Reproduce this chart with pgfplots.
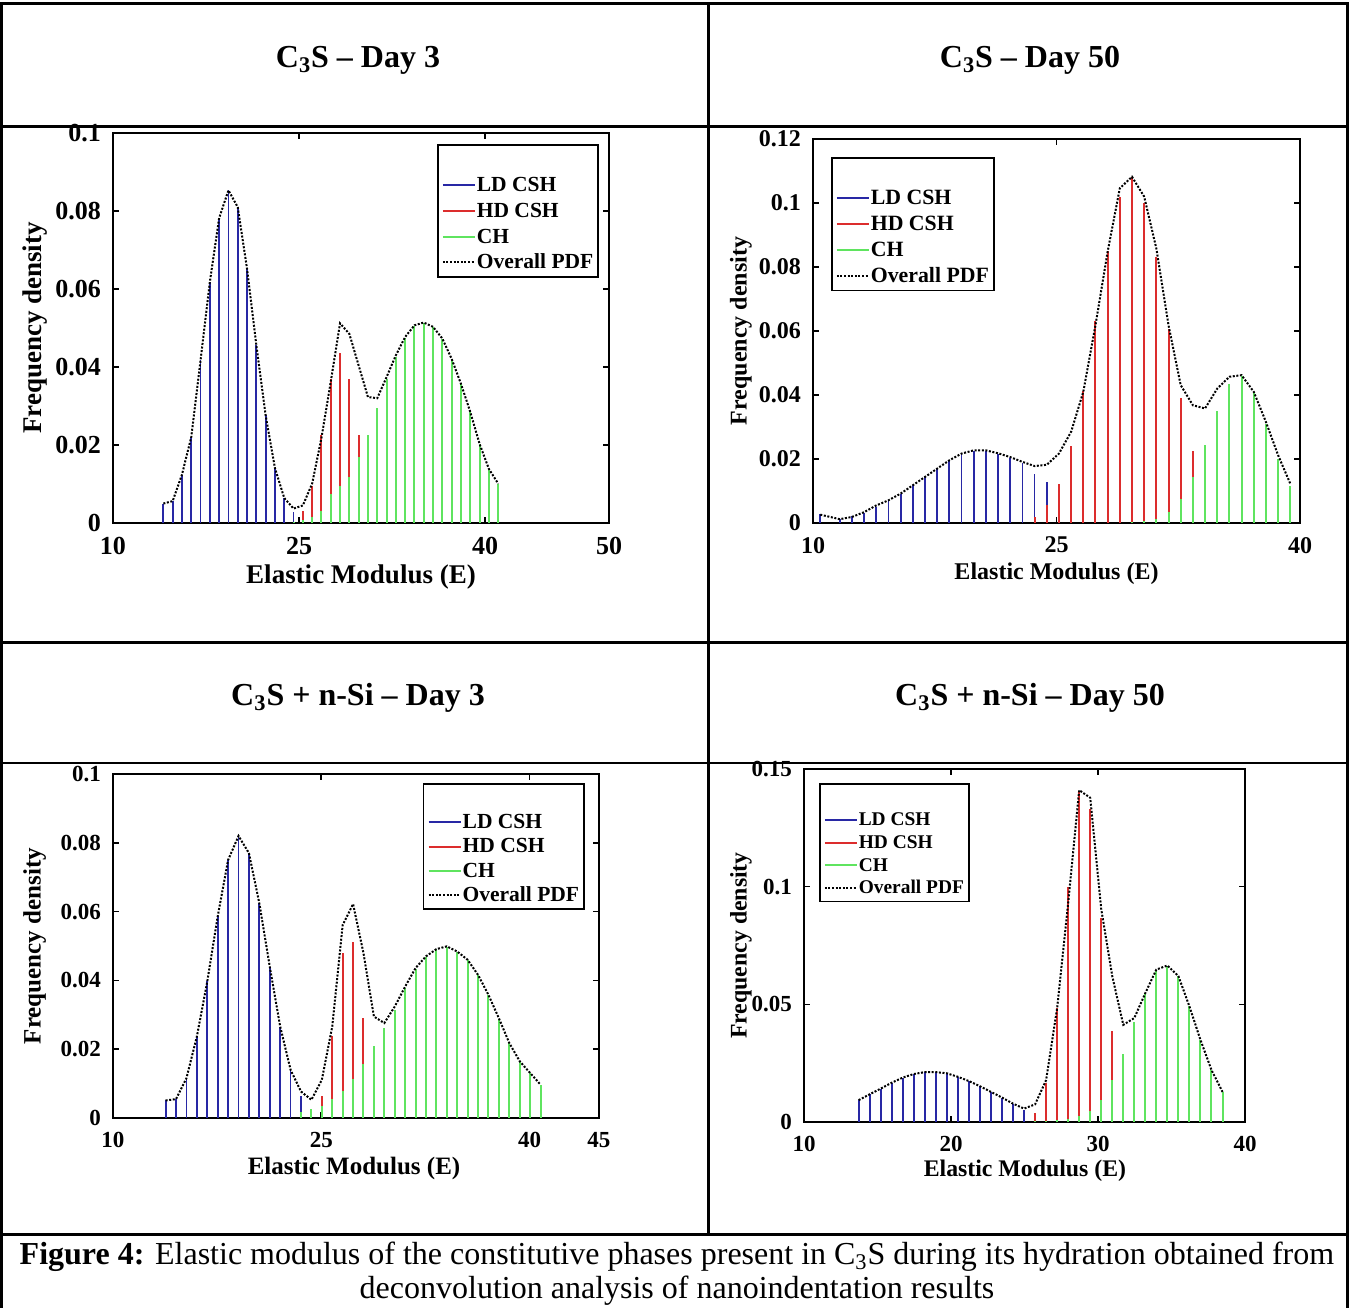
\documentclass[border=0pt]{standalone}
\usepackage{pgfplots}
\pgfplotsset{compat=1.18}
\usepackage{pgfplotstable}
\usepackage{fontspec}
\setmainfont{Liberation Serif}

\definecolor{ldc}{RGB}{40,40,165}
\definecolor{hdc}{RGB}{220,45,45}
\definecolor{chc}{RGB}{95,228,95}
\newcommand{\fs}[1]{\bfseries\fontsize{#1}{#1}\selectfont}

% C3S - Day 3
\pgfplotstableread{
x ld hd ch pdf
14.06 0.0050 0 0 0.0050
14.81 0.0056 0 0 0.0056
15.56 0.0124 0 0 0.0124
16.31 0.0220 0 0 0.0220
17.06 0.0417 0 0 0.0417
17.81 0.0618 0 0 0.0618
18.56 0.0782 0 0 0.0782
19.31 0.0853 0 0 0.0853
20.06 0.0810 0 0 0.0810
20.81 0.0652 0 0 0.0652
21.56 0.0456 0 0 0.0456
22.31 0.0276 0 0 0.0276
23.06 0.0141 0 0 0.0141
23.81 0.0064 0 0 0.0064
24.56 0.0028 0.0003 0.0002 0.0037
25.31 0.0005 0.0032 0.0008 0.0045
26.06 0 0.0095 0.0015 0.0101
26.81 0 0.0225 0.0030 0.0218
27.56 0 0.0370 0.0075 0.0362
28.31 0 0.0436 0.0095 0.0512
29.06 0 0.0370 0.0118 0.0485
29.81 0 0.0226 0.0168 0.0404
30.56 0 0.0097 0.0226 0.0323
31.31 0 0.0025 0.0295 0.0320
32.06 0 0.0005 0.0370 0.0374
32.81 0 0 0.0425 0.0430
33.56 0 0 0.0475 0.0477
34.31 0 0 0.0505 0.0507
35.06 0 0 0.0513 0.0514
35.81 0 0 0.0502 0.0503
36.56 0 0 0.0472 0.0473
37.31 0 0 0.0420 0.0421
38.06 0 0 0.0356 0.0357
38.81 0 0 0.0284 0.0285
39.56 0 0 0.0202 0.0203
40.31 0 0 0.0138 0.0139
41.06 0 0 0.0100 0.0101
}\tA

% C3S - Day 50
\pgfplotstableread{
x ld hd ch pdf
10.45 0.0028 0 0 0.0026
11.65 0.0013 0 0 0.0012
12.40 0.0021 0 0 0.0019
13.15 0.0032 0 0 0.0034
13.90 0.0050 0 0 0.0055
14.65 0.0068 0 0 0.0071
15.40 0.0092 0 0 0.0092
16.15 0.0118 0 0 0.0118
16.90 0.0144 0 0 0.0144
17.65 0.0170 0 0 0.0170
18.40 0.0196 0 0 0.0196
19.15 0.0215 0 0 0.0217
19.90 0.0226 0 0 0.0227
20.65 0.0226 0 0 0.0227
21.40 0.0216 0 0 0.0218
22.15 0.0204 0 0 0.0206
22.90 0.0186 0 0 0.0191
23.65 0.0154 0.0020 0 0.0178
24.40 0.0128 0.0055 0 0.0182
25.15 0.0090 0.0123 0 0.0217
25.90 0.0040 0.0240 0 0.0285
26.65 0.0010 0.0413 0 0.0410
27.40 0 0.0630 0 0.0618
28.15 0 0.0850 0 0.0848
28.90 0 0.1020 0 0.1046
29.65 0 0.1080 0.0003 0.1082
30.40 0 0.1000 0.0006 0.1020
31.15 0 0.0830 0.0012 0.0858
31.90 0 0.0605 0.0035 0.0618
32.65 0 0.0390 0.0075 0.0431
33.40 0 0.0225 0.0145 0.0368
34.15 0 0.0110 0.0245 0.0358
34.90 0 0.0050 0.0350 0.0420
35.65 0 0.0015 0.0435 0.0457
36.40 0 0 0.0460 0.0462
37.15 0 0 0.0405 0.0410
37.90 0 0 0.0310 0.0316
38.65 0 0 0.0200 0.0212
39.40 0 0 0.0115 0.0123
}\tB

% C3S + n-Si - Day 3
\pgfplotstableread{
x ld hd ch pdf
13.79 0.0051 0 0 0.0051
14.54 0.0055 0 0 0.0055
15.29 0.0116 0 0 0.0116
16.04 0.0237 0 0 0.0237
16.79 0.0397 0 0 0.0397
17.54 0.0586 0 0 0.0586
18.29 0.0750 0 0 0.0750
19.04 0.0820 0 0 0.0820
19.79 0.0770 0 0 0.0770
20.54 0.0624 0 0 0.0624
21.29 0.0440 0 0 0.0440
22.04 0.0266 0 0 0.0266
22.79 0.0140 0 0 0.0140
23.54 0.0063 0 0.0017 0.0077
24.29 0.0015 0.0010 0.0026 0.0053
25.04 0 0.0065 0.0034 0.0111
25.79 0 0.0239 0.0055 0.0266
26.54 0 0.0480 0.0080 0.0561
27.29 0 0.0513 0.0114 0.0622
28.04 0 0.0290 0.0158 0.0479
28.79 0 0.0090 0.0208 0.0295
29.54 0 0.0015 0.0262 0.0276
30.29 0 0 0.0315 0.0324
31.04 0 0 0.0378 0.0382
31.79 0 0 0.0434 0.0436
32.54 0 0 0.0468 0.0470
33.29 0 0 0.0490 0.0491
34.04 0 0 0.0498 0.0499
34.79 0 0 0.0483 0.0484
35.54 0 0 0.0459 0.0460
36.29 0 0 0.0415 0.0416
37.04 0 0 0.0357 0.0358
37.79 0 0 0.0289 0.0290
38.54 0 0 0.0217 0.0218
39.29 0 0 0.0164 0.0165
40.04 0 0 0.0130 0.0131
40.79 0 0 0.0096 0.0097
}\tC

% C3S + n-Si - Day 50
\pgfplotstableread{
x ld hd ch pdf
13.72 0.0093 0 0 0.0093
14.47 0.0118 0 0 0.0118
15.22 0.0142 0 0 0.0142
15.97 0.0167 0 0 0.0167
16.72 0.0189 0 0 0.0189
17.47 0.0204 0 0 0.0204
18.22 0.0212 0 0 0.0212
18.97 0.0212 0 0 0.0212
19.72 0.0207 0 0 0.0207
20.47 0.0192 0 0 0.0192
21.22 0.0174 0 0 0.0174
21.97 0.0152 0 0 0.0152
22.72 0.0128 0 0 0.0128
23.47 0.0104 0 0 0.0104
24.22 0.0078 0 0 0.0078
24.97 0.0053 0 0 0.0057
25.72 0.0025 0.0038 0.0003 0.0075
26.47 0 0.0164 0.0005 0.0178
27.22 0 0.0484 0.0008 0.0484
27.97 0 0.0997 0.0012 0.0930
28.72 0 0.1403 0.0024 0.1410
29.47 0 0.1332 0.0047 0.1378
30.22 0 0.0869 0.0093 0.0905
30.97 0 0.0385 0.0178 0.0620
31.72 0 0.0110 0.0288 0.0413
32.47 0 0.0030 0.0424 0.0442
33.22 0 0 0.0548 0.0548
33.97 0 0 0.0648 0.0648
34.72 0 0 0.0665 0.0665
35.47 0 0 0.0620 0.0620
36.22 0 0 0.0491 0.0491
36.97 0 0 0.0349 0.0349
37.72 0 0 0.0221 0.0221
38.47 0 0 0.0128 0.0128
}\tD

\pgfplotsset{
  stemplot/.style={
    scale only axis,
    axis line style={line width=0.8pt},
    tick align=inside, major tick length=3pt,
    tick style={line width=0.8pt, black},
    scaled ticks=false,
    /pgf/number format/assume math mode=true,
    xticklabel style={yshift=-3.5pt},
    yticklabel style={xshift=-2.5pt},
    ylabel={Frequency density}, xlabel={Elastic Modulus (E)},
    legend cell align=left,
    legend image code/.code={\draw[##1] (0pt,0pt) -- (16pt,0pt);},
  },
  ldstem/.style={ycomb, no markers, ldc, line width=0.9pt, forget plot},
  hdstem/.style={ycomb, no markers, hdc, line width=1pt, forget plot},
  chstem/.style={ycomb, no markers, chc, line width=1pt, forget plot},
  pdfline/.style={black, line width=1pt, dash pattern=on 1pt off 0.8pt, no markers, forget plot},
}

\newcommand{\legendset}{%
  \addlegendimage{empty legend}\addlegendentry{}
  \addlegendimage{ldc, line width=1pt}\addlegendentry{LD CSH}
  \addlegendimage{hdc, line width=1pt}\addlegendentry{HD CSH}
  \addlegendimage{chc, line width=1pt}\addlegendentry{CH}
  \addlegendimage{black, line width=1pt, dash pattern=on 1pt off 0.8pt}\addlegendentry{Overall PDF}
}

\begin{document}
\begin{tikzpicture}
\begin{scope}[x=0.5pt,y=-0.5pt]
\useasboundingbox (0,0) rectangle (1349,1308);
% table frame
\draw[line width=1.5pt] (0,3) -- (1349,3);
\draw[line width=1.1pt] (1.5,2) -- (1.5,1308);
\draw[line width=1.1pt] (1347.5,2) -- (1347.5,1308);
\draw[line width=1.1pt] (708.5,3) -- (708.5,1234);
\draw[line width=1.1pt] (0,126.5) -- (1349,126.5);
\draw[line width=1.1pt] (0,642.5) -- (1349,642.5);
\draw[line width=1.1pt] (0,763) -- (1349,763);
\draw[line width=1.1pt] (0,1234.5) -- (1349,1234.5);
% titles
\node[font=\fs{16}, anchor=base] at (358,67) {C\textsubscript{3}S – Day 3};
\node[font=\fs{16}, anchor=base] at (1030,67) {C\textsubscript{3}S – Day 50};
\node[font=\fs{16}, anchor=base] at (358,705) {C\textsubscript{3}S + n-Si – Day 3};
\node[font=\fs{16}, anchor=base] at (1030,705) {C\textsubscript{3}S + n-Si – Day 50};
% caption
\node[font=\fontsize{16}{16}\selectfont, anchor=base] at (677,1264) {\textbf{Figure 4:} Elastic modulus of the constitutive phases present in C\textsubscript{3}S during its hydration obtained from};
\node[font=\fontsize{16}{16}\selectfont, anchor=base] at (677,1298) {deconvolution analysis of nanoindentation results};
\end{scope}

% Panel 1
\begin{axis}[stemplot, at={(56.5pt,-261.5pt)}, anchor=south west,
  width=248pt, height=195pt,
  xmin=10, xmax=50, ymin=0, ymax=0.1,
  xtick={10,25,40,50}, xticklabels={10,25,40,50},
  ytick={0,0.02,0.04,0.06,0.08,0.1}, yticklabels={0,0.02,0.04,0.06,0.08,0.1},
  ticklabel style={font=\fs{13}},
  label style={font=\fs{13.5}},
  ylabel style={at={(axis description cs:-0.157,0.5)}, anchor=center},
  xlabel style={at={(axis description cs:0.5,-0.138)}, anchor=center},
  legend style={at={(0.98,0.972)}, anchor=north east, draw=black, line width=0.8pt,
    inner xsep=2pt, inner ysep=1pt, row sep=0pt, font=\fs{10.75},
    nodes={inner ysep=0pt, inner xsep=0.5pt, text height=9.7pt, text depth=3.15pt},
    /tikz/every even column/.append style={column sep=0pt}},
]
\legendset
\addplot[ldstem] table[x=x,y=ld]{\tA};
\addplot[hdstem] table[x=x,y=hd]{\tA};
\addplot[chstem] table[x=x,y=ch]{\tA};
\addplot[pdfline] table[x=x,y=pdf]{\tA};
\end{axis}

% Panel 2
\begin{axis}[stemplot, at={(406.5pt,-261.5pt)}, anchor=south west,
  width=243.5pt, height=192pt,
  xmin=10, xmax=40, ymin=0, ymax=0.12,
  xtick={10,25,40}, xticklabels={10,25,40},
  ytick={0,0.02,0.04,0.06,0.08,0.1,0.12}, yticklabels={0,0.02,0.04,0.06,0.08,0.1,0.12},
  ticklabel style={font=\fs{12}},
  label style={font=\fs{12}},
  ylabel style={at={(axis description cs:-0.148,0.5)}, anchor=center},
  xlabel style={at={(axis description cs:0.5,-0.132)}, anchor=center},
  legend style={at={(0.037,0.953)}, anchor=north west, draw=black, line width=0.8pt,
    inner xsep=2pt, inner ysep=1pt, row sep=0pt, font=\fs{10.9},
    nodes={inner ysep=0pt, inner xsep=0.5pt, text height=9.7pt, text depth=3.15pt},
    /tikz/every even column/.append style={column sep=0pt}},
]
\legendset
\addplot[ldstem] table[x=x,y=ld]{\tB};
\addplot[hdstem] table[x=x,y=hd]{\tB};
\addplot[chstem] table[x=x,y=ch]{\tB};
\addplot[pdfline] table[x=x,y=pdf]{\tB};
\end{axis}

% Panel 3
\begin{axis}[stemplot, at={(56.5pt,-559pt)}, anchor=south west,
  width=243pt, height=172pt,
  xmin=10, xmax=45, ymin=0, ymax=0.1,
  xtick={10,25,40,45}, xticklabels={10,25,40,45},
  ytick={0,0.02,0.04,0.06,0.08,0.1}, yticklabels={0,0.02,0.04,0.06,0.08,0.1},
  ticklabel style={font=\fs{11.5}},
  label style={font=\fs{12.5}},
  ylabel style={at={(axis description cs:-0.161,0.5)}, anchor=center},
  xlabel style={at={(axis description cs:0.496,-0.148)}, anchor=center},
  legend style={at={(0.971,0.974)}, anchor=north east, draw=black, line width=0.8pt,
    inner xsep=2pt, inner ysep=1pt, row sep=0pt, font=\fs{10.75},
    nodes={inner ysep=0pt, inner xsep=0.5pt, text height=9.2pt, text depth=2.95pt},
    /tikz/every even column/.append style={column sep=0pt}},
]
\legendset
\addplot[ldstem] table[x=x,y=ld]{\tC};
\addplot[hdstem] table[x=x,y=hd]{\tC};
\addplot[chstem] table[x=x,y=ch]{\tC};
\addplot[pdfline] table[x=x,y=pdf]{\tC};
\end{axis}

% Panel 4
\begin{axis}[stemplot, at={(402pt,-561pt)}, anchor=south west,
  width=220.5pt, height=176.5pt,
  xmin=10, xmax=40, ymin=0, ymax=0.15,
  xtick={10,20,30,40}, xticklabels={10,20,30,40},
  ytick={0,0.05,0.1,0.15}, yticklabels={0,0.05,0.1,0.15},
  ticklabel style={font=\fs{11.5}},
  label style={font=\fs{11.9}},
  ylabel style={at={(axis description cs:-0.143,0.5)}, anchor=center},
  xlabel style={at={(axis description cs:0.501,-0.138)}, anchor=center},
  legend style={at={(0.034,0.96)}, anchor=north west, draw=black, line width=0.8pt,
    inner xsep=2pt, inner ysep=1pt, row sep=0pt, font=\fs{9.7},
    nodes={inner ysep=0pt, inner xsep=0.5pt, text height=8.6pt, text depth=2.75pt},
    /tikz/every even column/.append style={column sep=0pt}},
]
\legendset
\addplot[ldstem] table[x=x,y=ld]{\tD};
\addplot[hdstem] table[x=x,y=hd]{\tD};
\addplot[chstem] table[x=x,y=ch]{\tD};
\addplot[pdfline] table[x=x,y=pdf]{\tD};
\end{axis}
\end{tikzpicture}
\end{document}
